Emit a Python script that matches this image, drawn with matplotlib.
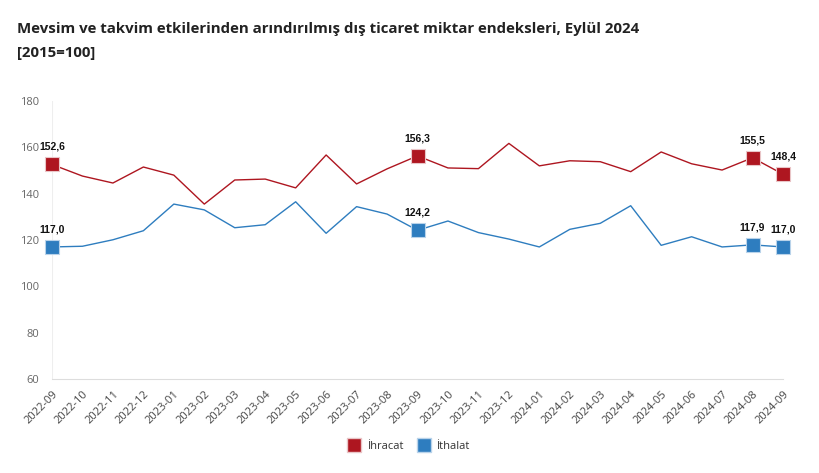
import matplotlib.pyplot as plt
import numpy as np
from matplotlib.lines import Line2D

plt.rcParams['font.family'] = ['Open Sans', 'DejaVu Sans']

# Monthly index values (2015=100)
months = ['2022-09', '2022-10', '2022-11', '2022-12', '2023-01', '2023-02', '2023-03',
          '2023-04', '2023-05', '2023-06', '2023-07', '2023-08', '2023-09', '2023-10',
          '2023-11', '2023-12', '2024-01', '2024-02', '2024-03', '2024-04', '2024-05',
          '2024-06', '2024-07', '2024-08', '2024-09']
ihracat = [152.6, 147.6, 144.6, 151.5, 148.0, 135.5, 145.9, 146.3, 142.5, 156.7, 144.2,
           150.7, 156.3, 151.1, 150.8, 161.7, 152.0, 154.2, 153.8, 149.5, 158.0, 152.9,
           150.2, 155.5, 148.4]
ithalat = [117.0, 117.3, 120.1, 124.0, 135.5, 133.0, 125.3, 126.6, 136.5, 122.9, 134.4,
           131.2, 124.2, 128.2, 123.2, 120.4, 117.0, 124.6, 127.2, 134.8, 117.7, 121.4,
           117.0, 117.9, 117.0]
highlight = [0, 12, 23, 24]

red = '#AE1620'
blue = '#2E7DBF'
edge = {red: '#e9c5c7', blue: '#b9d3ea'}

fig = plt.figure(figsize=(8.19, 4.73), dpi=100)
ax = fig.add_axes([52 / 819, 1 - 379 / 473, (783 - 52) / 819, (379 - 101) / 473])

x = np.arange(len(months))
ax.plot(x, ihracat, color=red, lw=1.0, zorder=3)
ax.plot(x, ithalat, color=blue, lw=1.0, zorder=3)

for series, col in [(ihracat, red), (ithalat, blue)]:
    for i in highlight:
        ax.plot(i, series[i], marker='s', ms=10, color=col, mec=edge[col],
                mew=0.8, zorder=4, clip_on=False)
        ax.annotate(f'{series[i]:.1f}'.replace('.', ','), (i, series[i]), xytext=(0, 9),
                    textcoords='offset points', ha='center', va='bottom',
                    fontsize=7.5, fontweight='bold', family='Liberation Sans', color='#111111')

ax.set_xlim(0, 24)
ax.set_ylim(60, 180)
ax.set_yticks(range(60, 181, 20))
ax.set_xticks(x)
ax.set_xticklabels(months, rotation=45, ha='right', rotation_mode='anchor',
                   fontsize=8, color='#444444')
ax.tick_params(axis='y', labelsize=8, labelcolor='#666666', length=0, pad=9)
ax.tick_params(axis='x', length=0, pad=7)

for side in ['top', 'right', 'left']:
    ax.spines[side].set_visible(False)
ax.spines['bottom'].set_color('#dddddd')
ax.axvline(0, color='#eeeeee', lw=1.5, zorder=1)

fig.text(17 / 819, 1 - 33 / 473, 'Mevsim ve takvim etkilerinden arındırılmış dış ticaret miktar endeksleri, Eylül 2024',
         fontsize=10.8, fontweight='bold', color='#222222', va='baseline')
fig.text(17 / 819, 1 - 57 / 473, '[2015=100]', fontsize=10.8, fontweight='bold',
         color='#222222', va='baseline')

handles = [Line2D([], [], ls='', marker='s', ms=10, color=red, mec=edge[red]),
           Line2D([], [], ls='', marker='s', ms=10, color=blue, mec=edge[blue])]
fig.legend(handles, ['İhracat', 'İthalat'], loc='center', bbox_to_anchor=(407 / 819, 1 - 446 / 473),
           ncol=2, frameon=False, fontsize=8, handletextpad=0.2, columnspacing=0.8,
           labelcolor='#333333')

fig.savefig('out.png', dpi=100, facecolor='white')
